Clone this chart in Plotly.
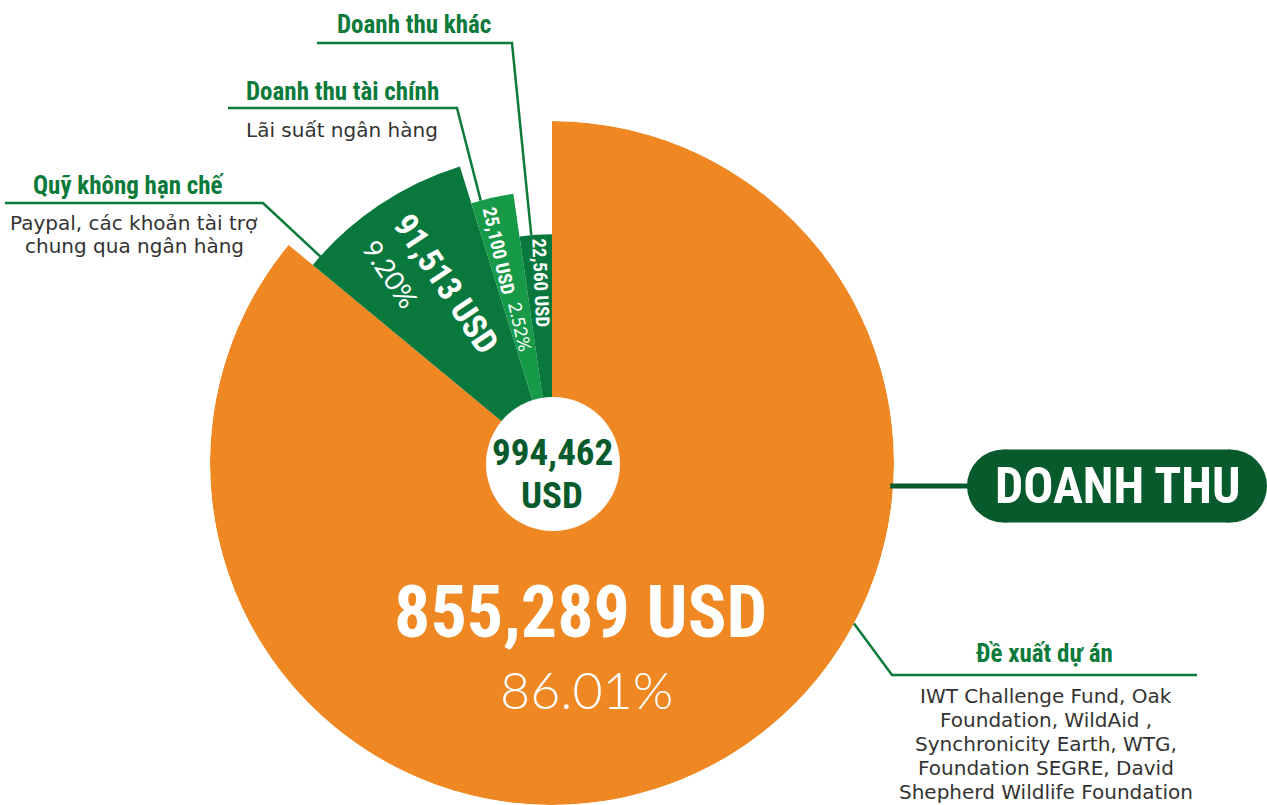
import math
import plotly.graph_objects as go

W, H = 1267, 805

# ---------------- data ----------------
categories = ["Đề xuất dự án", "Quỹ không hạn chế", "Doanh thu tài chính", "Doanh thu khác"]
values = [855289, 91513, 25100, 22560]
value_labels = ["855,289 USD", "91,513 USD", "25,100 USD", "22,560 USD"]
percent_labels = ["86.01%", "9.20%", "2.52%", "2.27%"]
total_label = ["994,462", "USD"]
descriptions = [
    ["IWT Challenge Fund, Oak", "Foundation, WildAid ,", "Synchronicity Earth, WTG,",
     "Foundation SEGRE, David", "Shepherd Wildlife Foundation"],
    ["Paypal, các khoản tài trợ", "chung qua ngân hàng"],
    ["Lãi suất ngân hàng"],
    [],
]
title_label = "DOANH THU"

# ---------------- style ----------------
slice_radius = [1.0, 0.908, 0.795, 0.669]
slice_colors = ["#EF8823", "#08783D", "#169A48", "#08783D"]
GREEN = "#0B7A3A"
DARK = "#075A2C"
GRAY = "#333333"
COND = "Roboto Condensed, Liberation Sans Narrow, DejaVu Sans Condensed, sans-serif"
LIGHT = "Lato, Open Sans, sans-serif"
BODY = "DejaVu Sans, sans-serif"

CX, CY, R = 552, 463, 342

total = sum(values)
widths = [v / total * 360 for v in values]
starts = []
acc = 0
for w in widths:
    starts.append(acc)
    acc += w
centers = [s + w / 2 for s, w in zip(starts, widths)]


def pol(frac, th):
    a = math.radians(th)
    return CX + frac * R * math.sin(a), CY - frac * R * math.cos(a)


def P(px, py):
    return px / W, 1 - py / H


fig = go.Figure()
fig.add_trace(go.Barpolar(
    r=slice_radius, theta=centers, width=widths,
    marker=dict(color=slice_colors, line=dict(width=0)),
    hoverinfo="skip", showlegend=False,
))

fig.update_layout(
    width=W, height=H, margin=dict(l=0, r=0, t=0, b=0),
    paper_bgcolor="white", plot_bgcolor="white",
    polar=dict(
        domain=dict(x=[(CX - R) / W, (CX + R) / W], y=[(H - CY - R) / H, (H - CY + R) / H]),
        bgcolor="rgba(0,0,0,0)", bargap=0, hole=0,
        angularaxis=dict(rotation=90, direction="clockwise", visible=False, showgrid=False),
        radialaxis=dict(range=[0, 1], visible=False, showgrid=False),
    ),
    showlegend=False,
)

shapes = []
annotations = []


def ann(px, py, text, size, color, family, angle=0, xanchor="center", align="center", weight="normal"):
    x, y = P(px, py)
    annotations.append(dict(
        x=x, y=y, xref="paper", yref="paper", text=text, showarrow=False,
        xanchor=xanchor, yanchor="middle", align=align, textangle=angle,
        font=dict(size=size, color=color, family=family, weight=weight),
    ))


def lines(px, py0, rows, size=20, step=24):
    for i, t in enumerate(rows):
        ann(px, py0 + i * step, t, size, GRAY, BODY)


def path(points, color, width):
    d = "M " + " L ".join(f"{P(*p)[0]:.5f},{P(*p)[1]:.5f}" for p in points)
    shapes.append(dict(type="path", xref="paper", yref="paper", path=d,
                       line=dict(color=color, width=width), fillcolor="rgba(0,0,0,0)"))


def circle(px, py, rad, color):
    x0, y1 = P(px - rad, py - rad)
    x1, y0 = P(px + rad, py + rad)
    shapes.append(dict(type="circle", xref="paper", yref="paper", x0=x0, x1=x1, y0=y0, y1=y1,
                       fillcolor=color, line=dict(width=0), layer="above"))


# centre disc
circle(CX + 1, CY + 1, 67, "white")
ann(CX, CY - 11, f"<b>{total_label[0]}</b>", 37, DARK, COND)
ann(CX, CY + 33, f"<b>{total_label[1]}</b>", 37, DARK, COND)

# labels inside slices
ann(580, 612, f"<b>{value_labels[0]}</b>", 72, "white", COND)
ann(586, 689, percent_labels[0], 52, "white", LIGHT, weight=300)

ang1 = centers[1] - 270
x, y = pol(0.608, 329.6)
ann(x, y, f"<b>{value_labels[1]}</b>", 34, "white", COND, angle=ang1)
x, y = pol(0.728, 319.5)
ann(x, y, percent_labels[1], 27, "white", LIGHT, angle=ang1)

ang2 = centers[2] - 270
x, y = pol(0.64, 345.8)
ann(x, y, f"<b>{value_labels[2]}</b>", 19, "white", COND, angle=ang2)
x, y = pol(0.408, 346.9)
ann(x, y, percent_labels[2], 18, "white", LIGHT, angle=ang2)

ang3 = centers[3] - 270 + 1.5
x, y = pol(0.528, 356.3)
ann(x, y, f"<b>{value_labels[3]}</b>", 19, "white", COND, angle=ang3)

# callouts
path([(317, 43), (512, 43), pol(slice_radius[3], 354.8)], GREEN, 2.5)
ann(414, 24, f"<b>{categories[3]}</b>", 25, GREEN, COND)
path([(228, 108), (457, 108), pol(slice_radius[2], 344.8)], GREEN, 2.5)
ann(342, 91, f"<b>{categories[2]}</b>", 25, GREEN, COND)
lines(342, 130, descriptions[2])
path([(5, 203), (263, 203), pol(slice_radius[1] - 0.01, 311.7)], GREEN, 2.5)
ann(129, 185, f"<b>{categories[1]}</b>", 25, GREEN, COND)
lines(134, 223, descriptions[1], step=23)
path([pol(1.0, 118), (892, 675), (1197, 675)], GREEN, 2.5)
ann(1044, 653, f"<b>{categories[0]}</b>", 25, GREEN, COND)
lines(1046, 696, descriptions[0])

# title pill
py_t = 486
ex = CX + math.sqrt(R * R - (py_t - CY) ** 2)
path([(ex - 3, py_t), (968, py_t)], DARK, 5)
rp = 36.5
circle(967 + rp, py_t, rp, DARK)
circle(1267 - rp, py_t, rp, DARK)
x0, y1 = P(967 + rp, py_t - rp)
x1, y0 = P(1267 - rp, py_t + rp)
shapes.append(dict(type="rect", xref="paper", yref="paper", x0=x0, x1=x1, y0=y0, y1=y1,
                   fillcolor=DARK, line=dict(width=0), layer="above"))
ann(1118, py_t, f"<b>{title_label}</b>", 50, "white", COND)

fig.update_layout(shapes=shapes, annotations=annotations)
fig.write_html("out.html", config={"displayModeBar": False},
               post_script="document.body.style.margin='0';document.body.style.overflow='hidden';")
